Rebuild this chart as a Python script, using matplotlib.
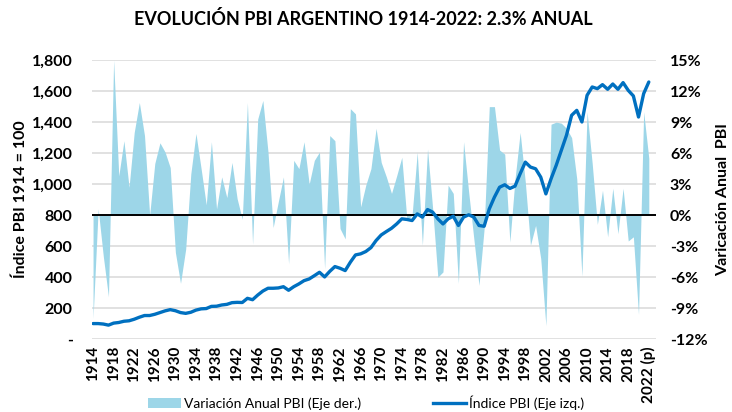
import numpy as np
import matplotlib.pyplot as plt
from matplotlib.patches import Patch
from matplotlib.lines import Line2D
from matplotlib.ticker import FuncFormatter

plt.rcParams['font.family'] = ['Lato', 'DejaVu Sans']

# ----------------------------
# Data
# ----------------------------
years = list(range(1914, 2023))

# annual GDP variation, % (right axis)
variacion = [
    -10.0, 0.6, -4.0, -7.9, 15.0, 3.8, 7.2, 2.7, 8.0, 10.9,      # 1914-1923
    7.7, 0.0, 5.0, 7.0, 6.1, 4.6, -3.6, -6.6, -3.3, 4.0,         # 1924-1933
    7.9, 4.5, 1.0, 7.1, 0.6, 3.7, 1.7, 5.1, 1.6, -0.4,           # 1934-1943
    10.9, -2.8, 9.3, 11.1, 6.1, -1.2, 1.3, 3.7, -4.7, 5.3,       # 1944-1953
    4.5, 7.1, 3.0, 5.3, 6.1, -5.2, 7.7, 7.2, -1.3, -2.3,         # 1954-1963
    10.3, 9.8, 0.8, 2.9, 4.5, 8.4, 5.1, 3.7, 2.1, 3.8,           # 1964-1973
    5.6, -0.5, 0.0, 6.1, -2.9, 6.4, 0.6, -6.0, -5.5, 2.9,        # 1974-1983
    2.1, -6.6, 7.1, 2.2, -2.3, -6.8, -1.3, 10.5, 10.5, 6.3,      # 1984-1993
    5.9, -2.6, 3.5, 8.0, 3.2, -2.9, -1.0, -4.2, -10.7, 8.8,      # 1994-2003
    9.0, 8.9, 8.4, 7.5, 3.5, -5.9, 10.0, 5.0, -0.9, 2.4,         # 2004-2013
    -2.1, 2.6, -1.8, 2.6, -2.5, -2.1, -9.6, 10.0, 5.5,           # 2014-2022
]

# GDP index, 1914 = 100 (left axis)
indice = [
    100, 100, 97, 90, 103, 107, 115, 118, 128, 141,
    152, 152, 160, 171, 182, 190, 183, 171, 166, 173,
    187, 195, 197, 211, 212, 220, 224, 235, 237, 236,
    263, 254, 284, 310, 328, 328, 330, 338, 315, 338,
    356, 377, 388, 409, 431, 401, 437, 468, 457, 442,
    496, 543, 550, 565, 590, 636, 672, 694, 715, 743,
    776, 772, 765, 808, 787, 836, 819, 776, 743, 776,
    793, 733, 787, 802, 787, 733, 728, 840, 916, 980,
    996, 972, 987, 1067, 1142, 1110, 1099, 1045, 937, 1034,
    1121, 1218, 1315, 1444, 1476, 1401, 1573, 1627, 1616, 1642,
    1612, 1646, 1612, 1655, 1605, 1569, 1433, 1584, 1659,
]

tick_years = years[::4]
tick_labels = [str(y) for y in tick_years[:-1]] + ["2022 (p)"]

fill_color = "#9DD6E8"
line_color = "#0070C0"
grid_color = "#D9D9D9"

# ----------------------------
# Figure setup
# ----------------------------
fig = plt.figure(figsize=(7.32, 4.12), dpi=100)
ax_r = fig.add_axes([0.1257, 0.177, 0.7705, 0.677])   # right axis: % variation
ax_l = ax_r.twinx()                                     # left axis: index
ax_l.yaxis.tick_left()
ax_l.yaxis.set_label_position("left")
ax_r.yaxis.tick_right()
ax_r.yaxis.set_label_position("right")
ax_l.set_zorder(ax_r.get_zorder() + 1)
ax_l.patch.set_visible(False)

# variation area
ax_r.fill_between(years, 0, variacion, color=fill_color, lw=0, zorder=2)
ax_r.axhline(0, color="black", lw=1.4, zorder=3)
ax_r.set_ylim(-12, 15)
ax_r.set_yticks(np.arange(-12, 16, 3))
ax_r.yaxis.set_major_formatter(FuncFormatter(lambda v, p: f"{v:.0f}%"))
ax_r.grid(axis="y", color=grid_color, lw=1.1, zorder=0)
ax_r.set_axisbelow(True)

# index line
ax_l.plot(years, indice, color=line_color, lw=2.4, solid_capstyle="round",
          solid_joinstyle="round")
ax_l.set_ylim(0, 1800)
ax_l.set_yticks(np.arange(0, 1801, 200))
ax_l.yaxis.set_major_formatter(
    FuncFormatter(lambda v, p: "-" if v == 0 else f"{v:,.0f}"))

ax_r.set_xlim(1913.8, 2023.4)
ax_r.set_xticks(tick_years)
ax_r.set_xticklabels(tick_labels, rotation=90)

for a in (ax_r, ax_l):
    for s in a.spines.values():
        s.set_visible(False)
    a.tick_params(length=0, labelsize=11.5)
    for lab in a.get_xticklabels() + a.get_yticklabels():
        lab.set_fontweight("bold")
ax_r.tick_params(axis="x", labelsize=11, pad=5)
ax_r.tick_params(axis="y", pad=10)
ax_l.tick_params(axis="y", pad=14)

ax_l.set_ylabel("Índice PBI 1914 = 100", fontsize=11.5, fontweight="bold",
                labelpad=3)
ax_r.set_ylabel("Varicación Anual  PBI", fontsize=11.5, fontweight="bold",
                labelpad=6)

fig.suptitle("EVOLUCIÓN PBI ARGENTINO 1914-2022: 2.3% ANUAL",
             fontsize=13, fontweight="bold", x=0.496, y=0.975)

handles = [Patch(facecolor=fill_color, edgecolor="none"),
           Line2D([], [], color=line_color, lw=2.4)]
fig.legend(handles, ["Variación Anual PBI (Eje der.)", "Índice PBI (Eje izq.)"],
           loc="center", bbox_to_anchor=(0.5, 0.022), ncol=2, frameon=False,
           fontsize=10, handlelength=2.4, handletextpad=0.2, columnspacing=5.2)

plt.savefig("out.png", dpi=100)
